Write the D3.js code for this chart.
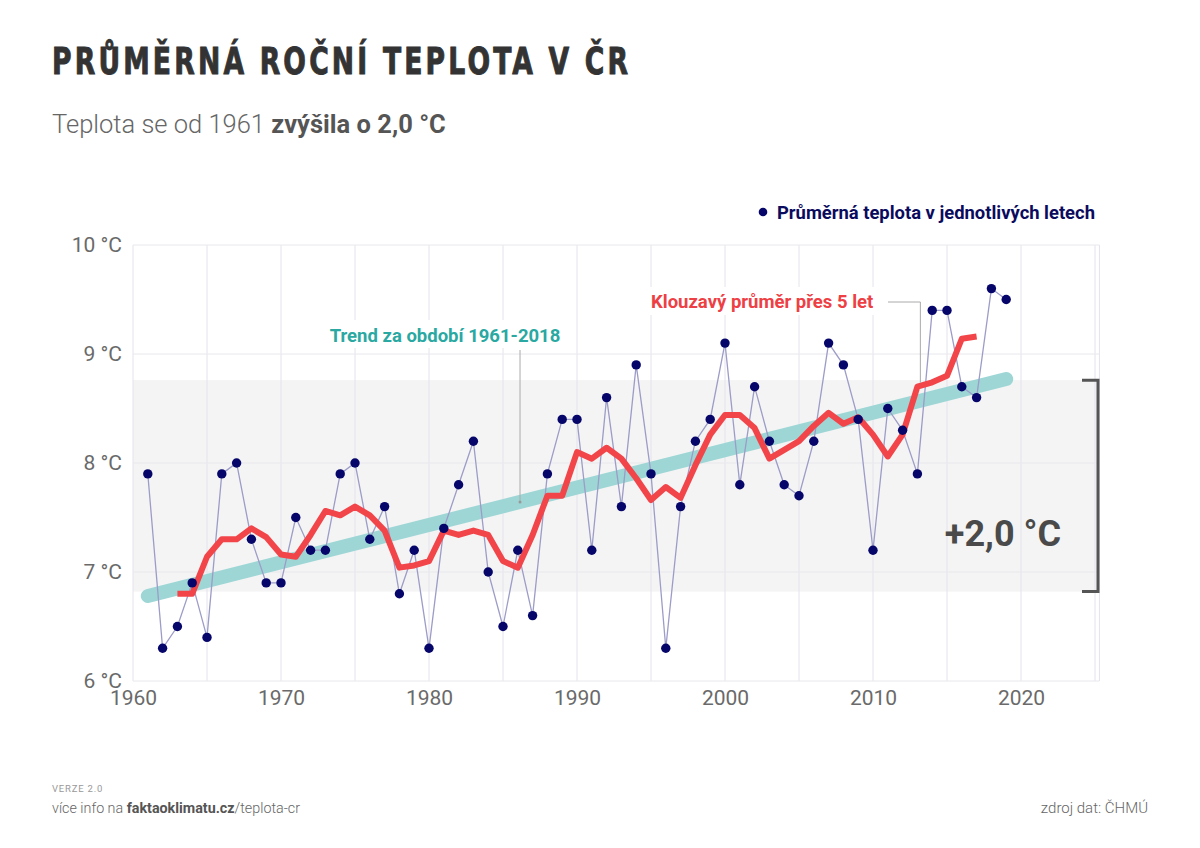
<!DOCTYPE html>
<html lang="cs">
<head>
<meta charset="UTF-8">
<title>Průměrná roční teplota v ČR</title>
<style>
    body { margin: 0; background: #fff; font-family: Roboto, "Noto Sans", sans-serif; }
    svg { display: block; }
</style>
</head>
<body>
<div id="chart"></div>
<script src="https://d3js.org/d3.v7.min.js"></script>
<script>
// roky a průměrné roční teploty (°C)
const years = d3.range(1961, 2020);
const temps = [
    7.9, 6.3, 6.5, 6.9, 6.4, 7.9, 8.0, 7.3, 6.9, 6.9,
    7.5, 7.2, 7.2, 7.9, 8.0, 7.3, 7.6, 6.8, 7.2, 6.3,
    7.4, 7.8, 8.2, 7.0, 6.5, 7.2, 6.6, 7.9, 8.4, 8.4,
    7.2, 8.6, 7.6, 8.9, 7.9, 6.3, 7.6, 8.2, 8.4, 9.1,
    7.8, 8.7, 8.2, 7.8, 7.7, 8.2, 9.1, 8.9, 8.4, 7.2,
    8.5, 8.3, 7.9, 9.4, 9.4, 8.7, 8.6, 9.6, 9.5
];

// klouzavý průměr přes 5 let (1963-2017)
const maYears = d3.range(1963, 2018);
const maTemps = [
    6.80, 6.80, 7.14, 7.30, 7.30, 7.40, 7.32, 7.16, 7.14, 7.34,
    7.56, 7.52, 7.60, 7.52, 7.38, 7.04, 7.06, 7.10, 7.38, 7.34,
    7.38, 7.34, 7.10, 7.04, 7.34, 7.70, 7.70, 8.10, 8.04, 8.14,
    8.04, 7.86, 7.66, 7.78, 7.68, 7.98, 8.26, 8.44, 8.44, 8.32,
    8.04, 8.12, 8.20, 8.34, 8.46, 8.36, 8.42, 8.26, 8.06, 8.26,
    8.70, 8.74, 8.80, 9.14, 9.16
];

// lineární trend 1961-2018
const trendYears = [1961, 2019];
const trendTemps = [6.78, 8.77];
const bandRange = [6.82, 8.76];

const yTicks = [6, 7, 8, 9, 10];
const xTicks = [1960, 1970, 1980, 1990, 2000, 2010, 2020];
const xGrid = d3.range(1960, 2026, 5);

const W = 1200, H = 848;
const svg = d3.select("#chart").append("svg")
    .attr("width", W)
    .attr("height", H);

const x = d3.scaleLinear().domain([1960, 2020]).range([133, 1021]);
const y = d3.scaleLinear().domain([6, 10]).range([681, 245]);
const xMax = 2025.3;

// šedý pás změny
svg.append("rect")
    .attr("x", x(1960))
    .attr("y", y(bandRange[1]))
    .attr("width", x(xMax) - x(1960))
    .attr("height", y(bandRange[0]) - y(bandRange[1]))
    .attr("fill", "#f4f4f4");

// mřížka
svg.append("g").selectAll("line")
    .data(xGrid.concat([xMax]))
    .join("line")
    .attr("x1", d => x(d)).attr("x2", d => x(d))
    .attr("y1", y(10)).attr("y2", y(6))
    .attr("stroke", "#e4e4ec")
    .attr("stroke-width", 1);

svg.append("g").selectAll("line")
    .data(yTicks)
    .join("line")
    .attr("x1", x(1960)).attr("x2", x(xMax))
    .attr("y1", d => y(d)).attr("y2", d => y(d))
    .attr("stroke", "#e8e8ee")
    .attr("stroke-width", 1);

// osy
const yAxis = svg.append("g")
    .attr("transform", `translate(${x(1960)},0)`)
    .call(d3.axisLeft(y).tickValues(yTicks).tickSize(0).tickPadding(11).tickFormat(d => d + " °C"));
yAxis.select(".domain").remove();
yAxis.selectAll("text")
    .attr("font-family", "Roboto")
    .attr("font-size", 21)
    .attr("fill", "#6a6a6a");

const xAxis = svg.append("g")
    .attr("transform", `translate(0,${y(6)})`)
    .call(d3.axisBottom(x).tickValues(xTicks).tickSize(0).tickPadding(9).tickFormat(d3.format("d")));
xAxis.select(".domain").remove();
xAxis.selectAll("text")
    .attr("font-family", "Roboto")
    .attr("font-size", 21)
    .attr("fill", "#6a6a6a");

// trend
svg.append("line")
    .attr("x1", x(trendYears[0])).attr("y1", y(trendTemps[0]))
    .attr("x2", x(trendYears[1])).attr("y2", y(trendTemps[1]))
    .attr("stroke", "#9ed6d6")
    .attr("stroke-width", 14)
    .attr("stroke-linecap", "round");

// roční hodnoty - tenká spojnice
const yearData = years.map((yr, i) => ({ yr, t: temps[i] }));
svg.append("path")
    .datum(yearData)
    .attr("fill", "none")
    .attr("stroke", "#9c9cc8")
    .attr("stroke-width", 1.3)
    .attr("d", d3.line().x(d => x(d.yr)).y(d => y(d.t)));

// klouzavý průměr
const maData = maYears.map((yr, i) => ({ yr, t: maTemps[i] }));
svg.append("path")
    .datum(maData)
    .attr("fill", "none")
    .attr("stroke", "#f2454a")
    .attr("stroke-width", 6)
    .attr("stroke-linejoin", "round")
    .attr("d", d3.line().x(d => x(d.yr)).y(d => y(d.t)));

// body
svg.append("g").selectAll("circle")
    .data(yearData)
    .join("circle")
    .attr("cx", d => x(d.yr))
    .attr("cy", d => y(d.t))
    .attr("r", 4.7)
    .attr("fill", "#05056a");

// popisky - trend
const trendAt = 1986.15;
const trendY = y(trendTemps[0] + (trendTemps[1] - trendTemps[0]) * (trendAt - trendYears[0]) / (trendYears[1] - trendYears[0]));
svg.append("line")
    .attr("x1", x(trendAt)).attr("x2", x(trendAt))
    .attr("y1", 350).attr("y2", trendY)
    .attr("stroke", "#aaa").attr("stroke-width", 1);
svg.append("circle")
    .attr("cx", x(trendAt)).attr("cy", trendY).attr("r", 1.5).attr("fill", "#999");
svg.append("rect")
    .attr("x", 322).attr("y", 320).attr("width", 246).attr("height", 28)
    .attr("fill", "#fff");
svg.append("text")
    .attr("x", 445).attr("y", 342)
    .attr("text-anchor", "middle")
    .attr("font-family", "Roboto").attr("font-weight", 700).attr("font-size", 18.5)
    .attr("fill", "#2aa8a2")
    .text("Trend za období 1961-2018");

// popisky - klouzavý průměr
const maAt = 2013.2;
svg.append("path")
    .attr("d", `M888,302 H${x(maAt)} V${y(8.7) - 4}`)
    .attr("fill", "none")
    .attr("stroke", "#aaa").attr("stroke-width", 1);
svg.append("rect")
    .attr("x", 644).attr("y", 287).attr("width", 236).attr("height", 28)
    .attr("fill", "#fff");
svg.append("text")
    .attr("x", 651).attr("y", 308)
    .attr("font-family", "Roboto").attr("font-weight", 700).attr("font-size", 18.5)
    .attr("fill", "#ee4044")
    .text("Klouzavý průměr přes 5 let");

// závorka +2,0 °C
const bx = 1098;
svg.append("path")
    .attr("d", `M${bx - 16},${y(bandRange[1])} H${bx} V${y(bandRange[0])} H${bx - 16}`)
    .attr("fill", "none")
    .attr("stroke", "#555").attr("stroke-width", 3);
svg.append("text")
    .attr("x", 1003).attr("y", 546)
    .attr("text-anchor", "middle")
    .attr("font-family", "Roboto").attr("font-weight", 700).attr("font-size", 36)
    .attr("fill", "#4a4a4a")
    .text("+2,0 °C");

// legenda
svg.append("circle").attr("cx", 763).attr("cy", 212).attr("r", 4.3).attr("fill", "#05056a");
svg.append("text")
    .attr("x", 777).attr("y", 219)
    .attr("font-family", "Roboto").attr("font-weight", 700).attr("font-size", 18.4)
    .attr("fill", "#0b0b5e")
    .text("Průměrná teplota v jednotlivých letech");

// nadpis - úzké písmo s prostrkáním
svg.append("g")
    .attr("transform", "translate(52,74) scale(0.8,1)")
    .append("text")
    .attr("font-family", "Liberation Sans Narrow, DejaVu Sans Condensed, sans-serif")
    .attr("font-weight", 700).attr("font-size", 37)
    .attr("textLength", 576 / 0.8).attr("lengthAdjust", "spacing")
    .attr("fill", "#333")
    .attr("stroke", "#333").attr("stroke-width", 0.9)
    .text("PRŮMĚRNÁ ROČNÍ TEPLOTA V ČR");

const sub = svg.append("text")
    .attr("x", 52).attr("y", 133)
    .attr("font-family", "Roboto").attr("font-size", 25.5)
    .attr("fill", "#666");
sub.append("tspan").attr("font-weight", 300).text("Teplota se od 1961 ");
sub.append("tspan").attr("font-weight", 700).attr("fill", "#555").text("zvýšila o 2,0 °C");

// patička
svg.append("text")
    .attr("x", 52).attr("y", 792)
    .attr("font-family", "Roboto").attr("font-size", 9.5)
    .attr("letter-spacing", 0.8)
    .attr("fill", "#999")
    .text("VERZE 2.0");

const foot = svg.append("text")
    .attr("x", 52).attr("y", 813)
    .attr("font-family", "Roboto").attr("font-size", 14.3)
    .attr("fill", "#666");
foot.append("tspan").attr("font-weight", 300).text("více info na ");
foot.append("tspan").attr("font-weight", 700).attr("fill", "#555").text("faktaoklimatu.cz");
foot.append("tspan").attr("font-weight", 300).text("/teplota-cr");

svg.append("text")
    .attr("x", 1148).attr("y", 813)
    .attr("text-anchor", "end")
    .attr("font-family", "Roboto").attr("font-weight", 300).attr("font-size", 15)
    .attr("fill", "#666")
    .text("zdroj dat: ČHMÚ");
</script>
</body>
</html>
